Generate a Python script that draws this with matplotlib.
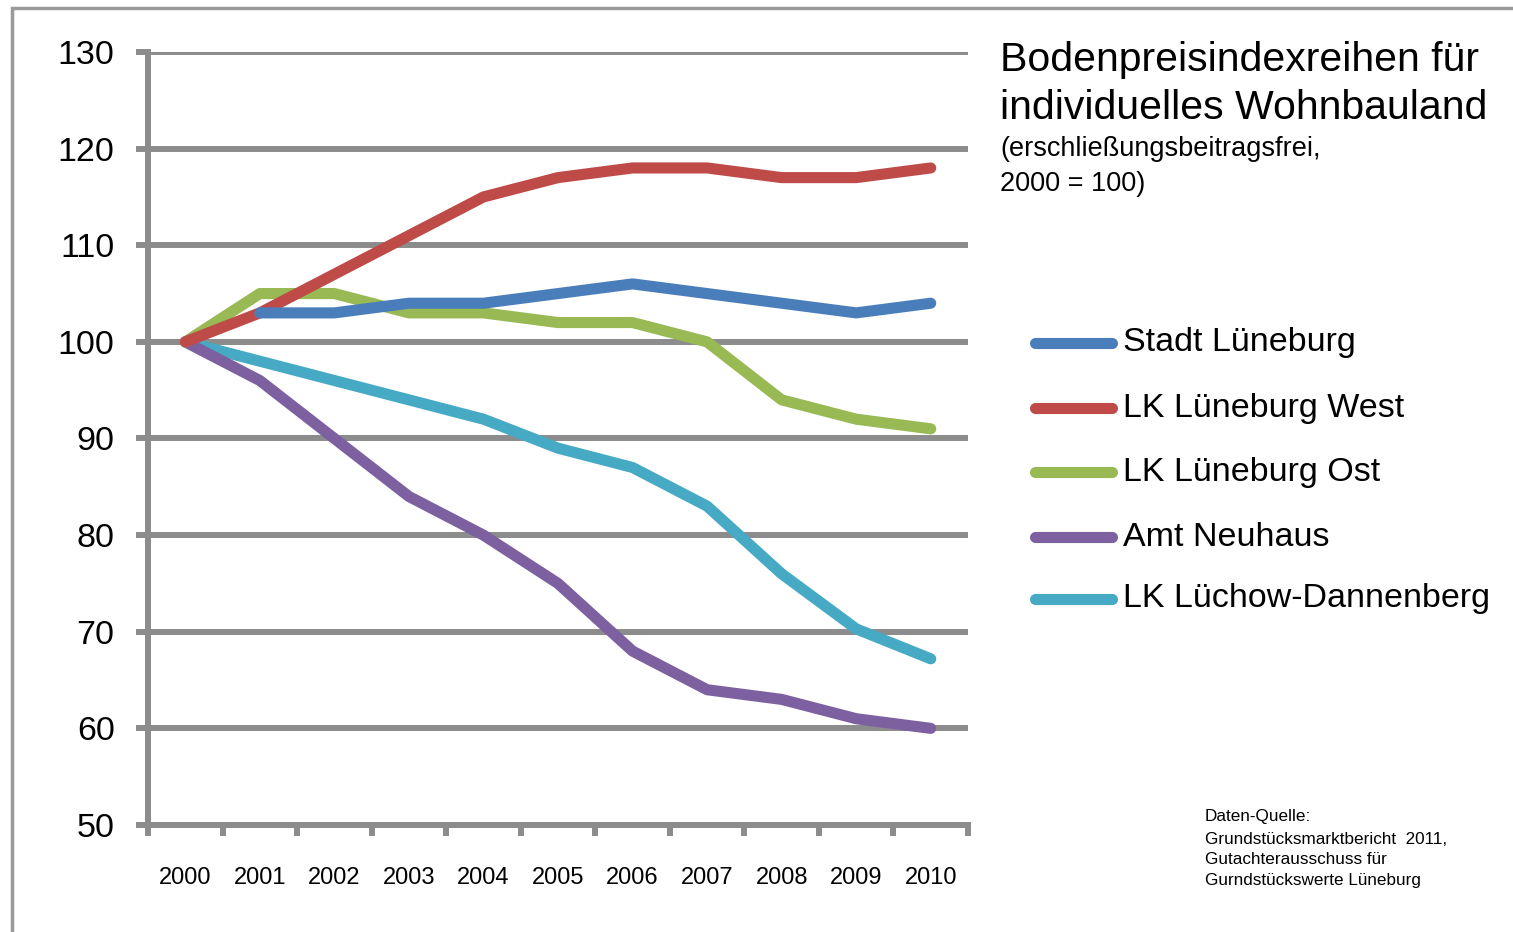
import matplotlib
matplotlib.use("Agg")
import matplotlib.pyplot as plt
from matplotlib import patches
import numpy as np

plt.rcParams['font.family'] = ['Liberation Sans', 'DejaVu Sans']

years = ['2000', '2001', '2002', '2003', '2004', '2005', '2006', '2007', '2008', '2009', '2010']
stadt_lueneburg = [np.nan, 103, 103, 104, 104, 105, 106, 105, 104, 103, 104]
lk_west = [100, 103, 107, 111, 115, 117, 118, 118, 117, 117, 118]
lk_ost = [100, 105, 105, 103, 103, 102, 102, 100, 94, 92, 91]
amt_neuhaus = [100, 96, 90, 84, 80, 75, 68, 64, 63, 61, 60]
luechow = [100, 98, 96, 94, 92, 89, 87, 83, 76, 70.3, 67.2]

series = [
    ('Stadt Lüneburg', stadt_lueneburg, '#4a7ebb'),
    ('LK Lüneburg West', lk_west, '#be4b48'),
    ('LK Lüneburg Ost', lk_ost, '#98b954'),
    ('Amt Neuhaus', amt_neuhaus, '#7d60a0'),
    ('LK Lüchow-Dannenberg', luechow, '#46aac5'),
]
grey = '#8c8c8c'
line_w = 8.0
grid_w = 4.3

fig = plt.figure(figsize=(15.13, 9.32), dpi=100)
W, H = 1513, 932
ax = fig.add_axes([148 / W, 1 - 825 / H, (968 - 148) / W, (825 - 52) / H])

x = np.arange(len(years))
# first series on top, like in the original
for i, (name, vals, col) in enumerate(series):
    ax.plot(x, vals, color=col, lw=line_w, solid_capstyle='round',
            solid_joinstyle='round', zorder=10 - i, label=name)
ax.set_xlim(-0.5, 10.5)
ax.set_ylim(50, 130)
ax.set_yticks(range(50, 131, 10))
ax.set_xticks(x)
ax.set_xticklabels(years, fontsize=17)
ax.set_xticks(np.arange(-0.5, 11, 1), minor=True)
ax.tick_params(axis='x', which='major', length=0, pad=30)
ax.tick_params(axis='x', which='minor', length=8, width=grid_w, color=grey, direction='out')
ax.tick_params(axis='y', length=9, width=grid_w, color=grey, labelsize=24.5, pad=15)
ax.yaxis.grid(True, color=grey, lw=grid_w, zorder=0)
ax.set_axisbelow(True)
for s in ['top', 'right']:
    ax.spines[s].set_visible(False)
for s in ['left', 'bottom']:
    ax.spines[s].set_color(grey)
    ax.spines[s].set_linewidth(grid_w)
ax.spines['bottom'].set_zorder(1)

# figure border (only left and top visible)
fig.patches.append(patches.Rectangle((12 / W, -0.1), 1.2, 1 - 8 / H + 0.1,
                                     transform=fig.transFigure, fill=False,
                                     edgecolor='#999999', lw=2.5))

fig.text(1000 / W, 1 - 60 / H, 'Bodenpreisindexreihen für', fontsize=29.5, va='center')
fig.text(1000 / W, 1 - 108 / H, 'individuelles Wohnbauland', fontsize=29.5, va='center')
fig.text(1000 / W, 1 - 149 / H, '(erschließungsbeitragsfrei,', fontsize=19.5, va='center')
fig.text(1000 / W, 1 - 184 / H, '2000 = 100)', fontsize=19.5, va='center')

# legend drawn by hand so spacing matches
leg_y = [343, 408, 472, 537, 599]
for (name, vals, col), yy in zip(series, leg_y):
    fy = 1 - yy / H
    fig.add_artist(plt.Line2D([1035 / W, 1112 / W], [fy, fy], color=col, lw=line_w,
                              solid_capstyle='round', transform=fig.transFigure))
    fig.text(1123 / W, fy, name, fontsize=24.5, va='center')

fig.text(1205 / W, 1 - 817 / H, 'Daten-Quelle:', fontsize=12.3, va='center')
fig.text(1205 / W, 1 - 840 / H, 'Grundstücksmarktbericht  2011,', fontsize=12.3, va='center')
fig.text(1205 / W, 1 - 860 / H, 'Gutachterausschuss für', fontsize=12.3, va='center')
fig.text(1205 / W, 1 - 881 / H, 'Gurndstückswerte Lüneburg', fontsize=12.3, va='center')

fig.savefig('out.png', dpi=100)
